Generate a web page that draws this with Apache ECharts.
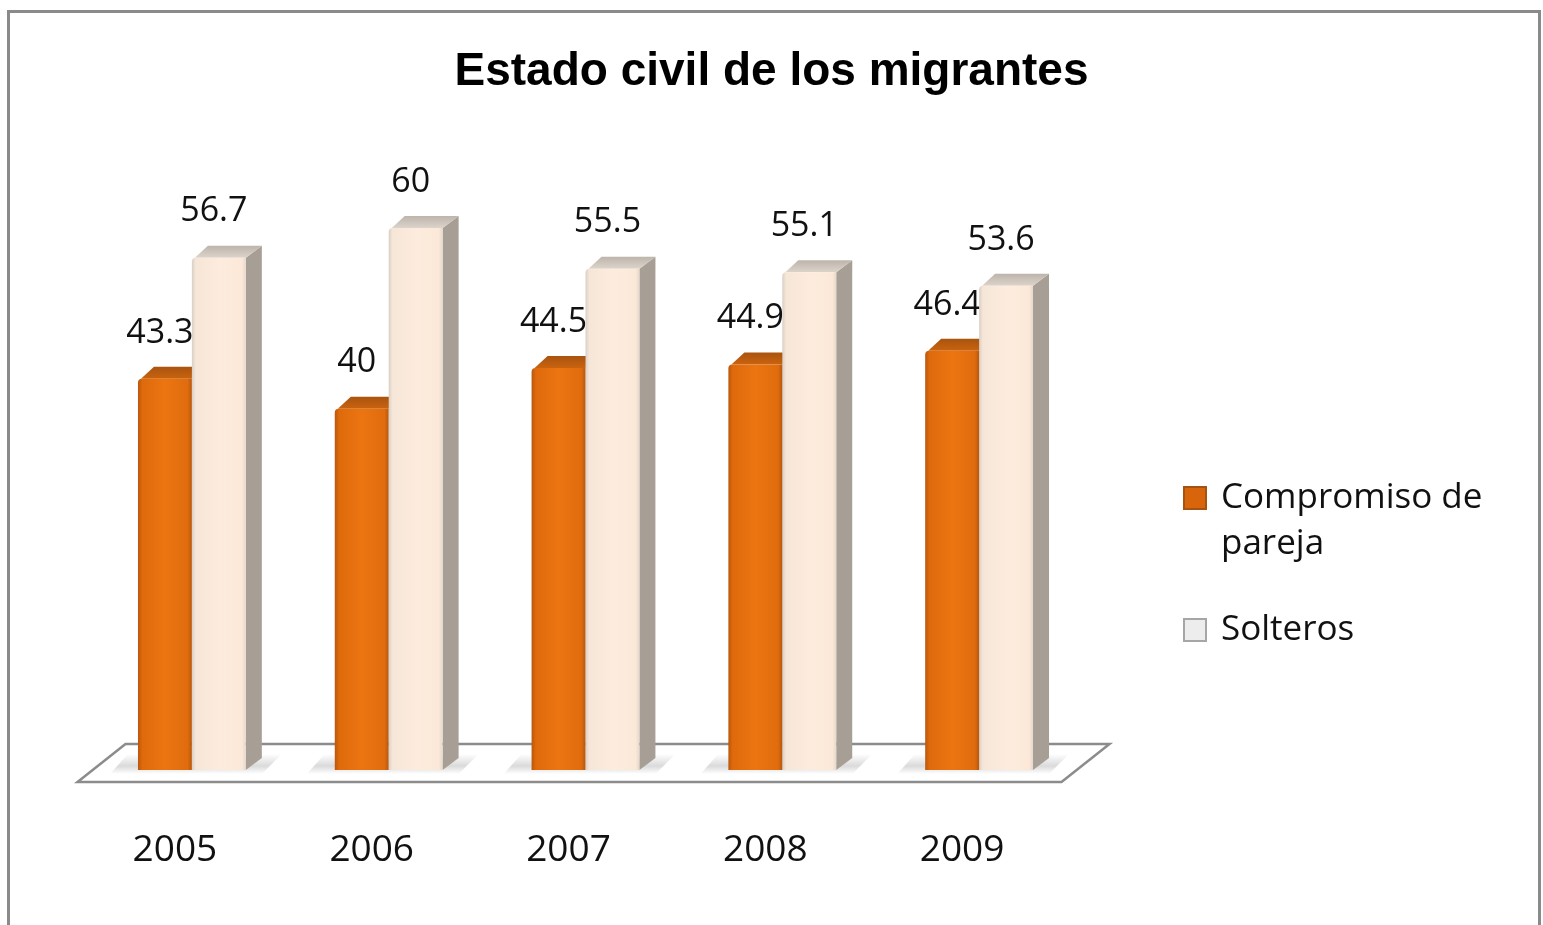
<!DOCTYPE html>
<html>
<head>
<meta charset="utf-8">
<script src="https://cdn.jsdelivr.net/npm/echarts@6/dist/echarts.min.js"></script>
<style>
  html, body { margin: 0; padding: 0; background: #fff; }
  #chart { width: 1543px; height: 925px; }
</style>
</head>
<body>
<div id="chart"></div>
<script>
const categories = ['2005', '2006', '2007', '2008', '2009'];
const compromiso = [43.3, 40, 44.5, 44.9, 46.4];
const solteros = [56.7, 60, 55.5, 55.1, 53.6];
const seriesNames = ['Compromiso de pareja', 'Solteros'];

const BAR_RATIO = 0.274;
const DX = 16, DY = 12;

const styles = [
  {
    front: new echarts.graphic.LinearGradient(0, 0, 1, 0, [
      { offset: 0, color: '#B9570C' },
      { offset: 0.08, color: '#DE6A0C' },
      { offset: 0.5, color: '#EC7511' },
      { offset: 0.92, color: '#E06C0E' },
      { offset: 1, color: '#B9570C' }
    ]),
    side: '#A64D08',
    top: new echarts.graphic.LinearGradient(0, 0, 0, 1, [
      { offset: 0, color: '#A9540F' },
      { offset: 1, color: '#C9630F' }
    ]),
    legend: '#D8650C',
    legendBorder: '#A45310'
  },
  {
    front: new echarts.graphic.LinearGradient(0, 0, 1, 0, [
      { offset: 0, color: '#D9CFC6' },
      { offset: 0.07, color: '#F6E6D8' },
      { offset: 0.5, color: '#FDECDE' },
      { offset: 0.93, color: '#FBE8D8' },
      { offset: 1, color: '#E5D8CC' }
    ]),
    side: '#A79E95',
    top: new echarts.graphic.LinearGradient(0, 0, 0, 1, [
      { offset: 0, color: '#BDB5AC' },
      { offset: 1, color: '#DCD3CA' }
    ]),
    legend: '#EDEDED',
    legendBorder: '#A6A6A6'
  }
];

function makeRender(sIdx) {
  return function (params, api) {
    const cat = api.value(0), val = api.value(1);
    const base = api.coord([cat, 0]);
    const topP = api.coord([cat, val]);
    const bw = api.size([1, 0])[0] * BAR_RATIO;
    const x0 = sIdx === 0 ? base[0] - bw : base[0];
    const x1 = x0 + bw;
    const yb = base[1], yt = topP[1];
    const st = styles[sIdx];
    return {
      type: 'group',
      children: [
        { type: 'polygon', shape: { points: [[x1, yt], [x1 + DX, yt - DY], [x1 + DX, yb - DY], [x1, yb]] },
          style: { fill: st.side } },
        { type: 'polygon', shape: { points: [[x0 + 3, yt], [x0 + DX, yt - DY], [x1 + DX, yt - DY], [x1, yt]] },
          style: { fill: st.top } },
        { type: 'rect', shape: { x: x0, y: yt, width: bw, height: yb - yt, r: [4, 0, 0, 0] },
          style: { fill: st.front } },
        { type: 'text', x: (x0 + x1) / 2 - 5, y: yt - 46,
          style: { text: String(val), textAlign: 'center', textVerticalAlign: 'middle',
                   font: '34px "Open Sans"', fill: '#111' } }
      ]
    };
  };
}

function renderFloor(params, api) {
  const n = categories.length;
  const w = api.size([1, 0])[0];
  const L = api.coord([0, 0])[0] - w / 2;
  const R = api.coord([n - 1, 0])[0] + w / 2;
  const y0 = api.coord([0, 0])[1];
  const pts = [[L - DX, y0 + DY], [R - DX, y0 + DY], [R + 2 * DX, y0 - 26], [L + 2 * DX, y0 - 26]];
  const shadows = [];
  for (let i = 0; i < n; i++) {
    const c = api.coord([i, 0])[0];
    const bw = w * BAR_RATIO;
    shadows.push({
      type: 'polygon',
      shape: { points: [[c - bw - 28, y0 + 4], [c + bw + DX, y0 + 4], [c + bw + DX + 20, y0 - DY - 4], [c - bw - 10, y0 - DY - 4]] },
      style: { fill: new echarts.graphic.LinearGradient(0, 0, 0, 1, [
        { offset: 0, color: 'rgba(150,150,150,0.0)' },
        { offset: 0.6, color: 'rgba(150,150,150,0.35)' },
        { offset: 1, color: 'rgba(150,150,150,0.0)' }
      ]) }
    });
  }
  return {
    type: 'group',
    children: [
      { type: 'polygon', shape: { points: pts }, style: { fill: '#fff', stroke: '#8C8C8C', lineWidth: 2.5 } }
    ].concat(shadows)
  };
}

const chart = echarts.init(document.getElementById('chart'));
chart.setOption({
  backgroundColor: '#fff',
  animation: false,
  title: {
    text: 'Estado civil de los migrantes',
    left: 'center',
    top: 44,
    textStyle: { fontFamily: '"Liberation Sans", Arial, sans-serif', fontWeight: 'bold', fontSize: 46, color: '#000' }
  },
  graphic: [
    { type: 'rect', left: 6, top: 9, shape: { width: 1531, height: 940 },
      style: { fill: 'none', stroke: '#8A8A8A', lineWidth: 3 }, silent: true, z: -10 }
  ],
  legend: {
    orient: 'vertical',
    left: 1183,
    top: 429,
    padding: 0,
    itemWidth: 22,
    itemHeight: 22,
    itemGap: 40,
    icon: 'rect',
    formatter: function (name) {
      if (name.length > 12) {
        const k = name.lastIndexOf(' ');
        return '\n' + name.slice(0, k) + '\n' + name.slice(k + 1);
      }
      return name;
    },
    textStyle: { fontFamily: '"Open Sans"', fontSize: 35, color: '#111', lineHeight: 46, padding: [0, 0, 0, 10] },
    data: [
      { name: seriesNames[0], itemStyle: { color: styles[0].legend, borderColor: styles[0].legendBorder, borderWidth: 2 } },
      { name: seriesNames[1], itemStyle: { color: styles[1].legend, borderColor: styles[1].legendBorder, borderWidth: 2 } }
    ]
  },
  grid: { left: 93.5, right: 465.5, top: 228, bottom: 155 },
  xAxis: {
    type: 'category',
    data: categories,
    axisLine: { show: false },
    axisTick: { show: false },
    splitLine: { show: false },
    axisLabel: { margin: 62, fontFamily: '"Open Sans"', fontSize: 37, color: '#111', padding: [0, 34, 0, 0] }
  },
  yAxis: { type: 'value', min: 0, max: 60, show: false, splitLine: { show: false } },
  series: [
    { type: 'custom', name: 'floor', silent: true, z: 1, renderItem: renderFloor, data: [[0, 0]] },
    { type: 'custom', name: seriesNames[0], z: 2, itemStyle: { color: styles[0].legend },
      renderItem: makeRender(0), data: compromiso.map((v, i) => [i, v]) },
    { type: 'custom', name: seriesNames[1], z: 3, itemStyle: { color: styles[1].legend },
      renderItem: makeRender(1), data: solteros.map((v, i) => [i, v]) }
  ]
});
</script>
</body>
</html>
